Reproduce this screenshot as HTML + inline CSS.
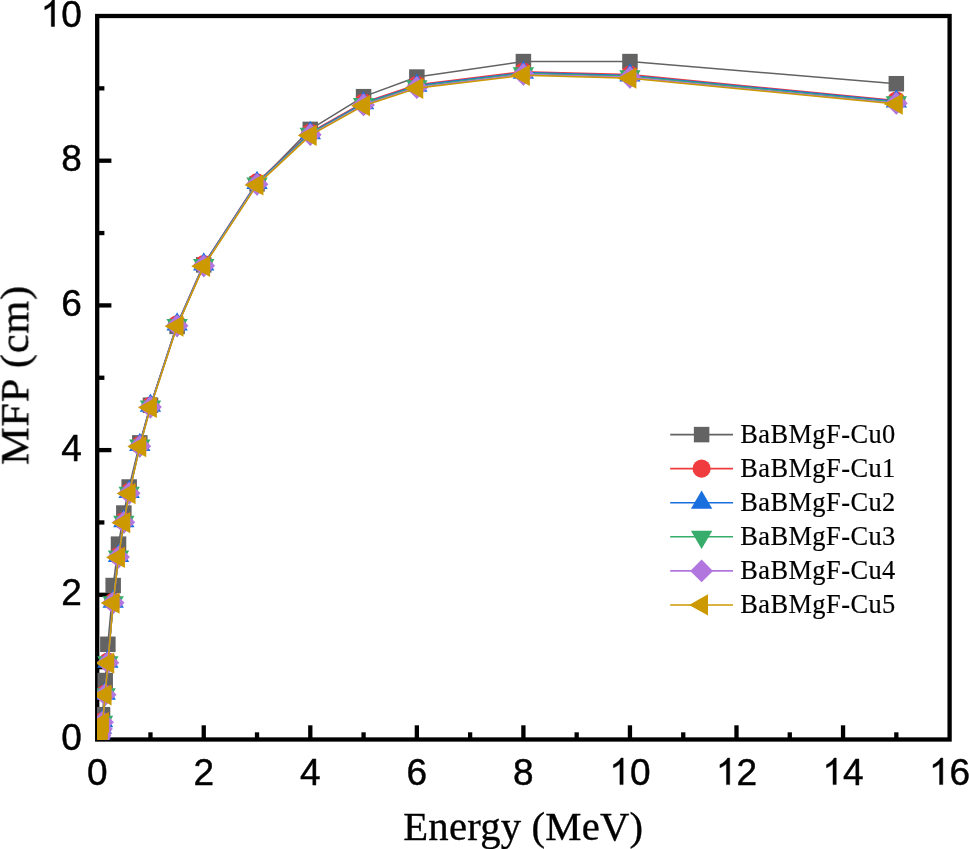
<!DOCTYPE html>
<html><head><meta charset="utf-8"><title>MFP vs Energy</title>
<style>html,body{margin:0;padding:0;background:#fff;}body{width:969px;height:849px;overflow:hidden;}svg{display:block;}text{font-family:"Liberation Sans",sans-serif;fill:#000;}.t{font-family:"Liberation Serif",serif;}</style>
</head><body>
<svg width="969" height="849" viewBox="0 0 969 849">
<rect x="0" y="0" width="969" height="849" fill="#ffffff"/>
<defs><clipPath id="c"><rect x="97" y="16" width="852.6" height="724"/></clipPath></defs>
<g stroke="#000" stroke-width="4.3" fill="none" stroke-linecap="butt">
<rect x="97.20" y="16.00" width="852.40" height="723.50"/>
<line x1="150.47" y1="739.50" x2="150.47" y2="732.30"/>
<line x1="203.75" y1="739.50" x2="203.75" y2="725.30"/>
<line x1="257.02" y1="739.50" x2="257.02" y2="732.30"/>
<line x1="310.30" y1="739.50" x2="310.30" y2="725.30"/>
<line x1="363.57" y1="739.50" x2="363.57" y2="732.30"/>
<line x1="416.85" y1="739.50" x2="416.85" y2="725.30"/>
<line x1="470.12" y1="739.50" x2="470.12" y2="732.30"/>
<line x1="523.40" y1="739.50" x2="523.40" y2="725.30"/>
<line x1="576.67" y1="739.50" x2="576.67" y2="732.30"/>
<line x1="629.95" y1="739.50" x2="629.95" y2="725.30"/>
<line x1="683.23" y1="739.50" x2="683.23" y2="732.30"/>
<line x1="736.50" y1="739.50" x2="736.50" y2="725.30"/>
<line x1="789.77" y1="739.50" x2="789.77" y2="732.30"/>
<line x1="843.05" y1="739.50" x2="843.05" y2="725.30"/>
<line x1="896.33" y1="739.50" x2="896.33" y2="732.30"/>
<line x1="97.20" y1="667.15" x2="104.40" y2="667.15"/>
<line x1="97.20" y1="594.80" x2="111.40" y2="594.80"/>
<line x1="97.20" y1="522.45" x2="104.40" y2="522.45"/>
<line x1="97.20" y1="450.10" x2="111.40" y2="450.10"/>
<line x1="97.20" y1="377.75" x2="104.40" y2="377.75"/>
<line x1="97.20" y1="305.40" x2="111.40" y2="305.40"/>
<line x1="97.20" y1="233.05" x2="104.40" y2="233.05"/>
<line x1="97.20" y1="160.70" x2="111.40" y2="160.70"/>
<line x1="97.20" y1="88.35" x2="104.40" y2="88.35"/>
</g>
<g clip-path="url(#c)">
<polyline points="98.00,739.14 98.27,738.78 98.80,737.33 99.33,735.16 99.86,733.71 100.40,730.82 101.46,724.31 102.53,714.68 105.19,680.53 107.86,644.29 113.18,585.54 118.51,544.15 123.84,513.04 129.16,487.00 139.82,442.87 150.47,405.24 177.11,326.38 203.75,264.88 257.02,183.85 310.30,129.37 363.57,96.67 416.85,77.06 523.40,61.58 629.95,61.58 896.33,83.72" fill="none" stroke="#636363" stroke-width="1.5" stroke-linejoin="round"/>
<rect x="90.25" y="731.39" width="15.50" height="15.50" fill="#636363"/>
<rect x="90.52" y="731.03" width="15.50" height="15.50" fill="#636363"/>
<rect x="91.05" y="729.58" width="15.50" height="15.50" fill="#636363"/>
<rect x="91.58" y="727.41" width="15.50" height="15.50" fill="#636363"/>
<rect x="92.11" y="725.96" width="15.50" height="15.50" fill="#636363"/>
<rect x="92.65" y="723.07" width="15.50" height="15.50" fill="#636363"/>
<rect x="93.71" y="716.56" width="15.50" height="15.50" fill="#636363"/>
<rect x="94.78" y="706.93" width="15.50" height="15.50" fill="#636363"/>
<rect x="97.44" y="672.78" width="15.50" height="15.50" fill="#636363"/>
<rect x="100.11" y="636.54" width="15.50" height="15.50" fill="#636363"/>
<rect x="105.43" y="577.79" width="15.50" height="15.50" fill="#636363"/>
<rect x="110.76" y="536.40" width="15.50" height="15.50" fill="#636363"/>
<rect x="116.09" y="505.29" width="15.50" height="15.50" fill="#636363"/>
<rect x="121.41" y="479.25" width="15.50" height="15.50" fill="#636363"/>
<rect x="132.07" y="435.12" width="15.50" height="15.50" fill="#636363"/>
<rect x="142.72" y="397.49" width="15.50" height="15.50" fill="#636363"/>
<rect x="169.36" y="318.63" width="15.50" height="15.50" fill="#636363"/>
<rect x="196.00" y="257.13" width="15.50" height="15.50" fill="#636363"/>
<rect x="249.27" y="176.10" width="15.50" height="15.50" fill="#636363"/>
<rect x="302.55" y="121.62" width="15.50" height="15.50" fill="#636363"/>
<rect x="355.82" y="88.92" width="15.50" height="15.50" fill="#636363"/>
<rect x="409.10" y="69.31" width="15.50" height="15.50" fill="#636363"/>
<rect x="515.65" y="53.83" width="15.50" height="15.50" fill="#636363"/>
<rect x="622.20" y="53.83" width="15.50" height="15.50" fill="#636363"/>
<rect x="888.58" y="75.97" width="15.50" height="15.50" fill="#636363"/>
<polyline points="98.00,737.83 98.27,737.61 98.80,736.74 99.33,735.87 99.86,734.42 100.40,732.24 101.46,727.90 102.53,721.01 105.19,693.50 107.86,661.51 113.18,601.56 118.51,555.80 123.84,521.04 129.16,491.92 139.82,444.82 150.47,405.60 177.11,324.25 203.75,264.16 257.02,182.40 310.30,132.48 363.57,102.46 416.85,84.73 523.40,71.71 629.95,74.60 896.33,100.50" fill="none" stroke="#F03C3E" stroke-width="1.5" stroke-linejoin="round"/>
<circle cx="98.00" cy="737.83" r="9.1" fill="#F03C3E"/>
<circle cx="98.27" cy="737.61" r="9.1" fill="#F03C3E"/>
<circle cx="98.80" cy="736.74" r="9.1" fill="#F03C3E"/>
<circle cx="99.33" cy="735.87" r="9.1" fill="#F03C3E"/>
<circle cx="99.86" cy="734.42" r="9.1" fill="#F03C3E"/>
<circle cx="100.40" cy="732.24" r="9.1" fill="#F03C3E"/>
<circle cx="101.46" cy="727.90" r="9.1" fill="#F03C3E"/>
<circle cx="102.53" cy="721.01" r="9.1" fill="#F03C3E"/>
<circle cx="105.19" cy="693.50" r="9.1" fill="#F03C3E"/>
<circle cx="107.86" cy="661.51" r="9.1" fill="#F03C3E"/>
<circle cx="113.18" cy="601.56" r="9.1" fill="#F03C3E"/>
<circle cx="118.51" cy="555.80" r="9.1" fill="#F03C3E"/>
<circle cx="123.84" cy="521.04" r="9.1" fill="#F03C3E"/>
<circle cx="129.16" cy="491.92" r="9.1" fill="#F03C3E"/>
<circle cx="139.82" cy="444.82" r="9.1" fill="#F03C3E"/>
<circle cx="150.47" cy="405.60" r="9.1" fill="#F03C3E"/>
<circle cx="177.11" cy="324.25" r="9.1" fill="#F03C3E"/>
<circle cx="203.75" cy="264.16" r="9.1" fill="#F03C3E"/>
<circle cx="257.02" cy="182.40" r="9.1" fill="#F03C3E"/>
<circle cx="310.30" cy="132.48" r="9.1" fill="#F03C3E"/>
<circle cx="363.57" cy="102.46" r="9.1" fill="#F03C3E"/>
<circle cx="416.85" cy="84.73" r="9.1" fill="#F03C3E"/>
<circle cx="523.40" cy="71.71" r="9.1" fill="#F03C3E"/>
<circle cx="629.95" cy="74.60" r="9.1" fill="#F03C3E"/>
<circle cx="896.33" cy="100.50" r="9.1" fill="#F03C3E"/>
<polyline points="98.00,737.83 98.27,737.61 98.80,736.74 99.33,735.87 99.86,734.42 100.40,732.25 101.46,727.91 102.53,721.03 105.19,693.53 107.86,661.54 113.18,601.61 118.51,555.86 123.84,521.11 129.16,492.01 139.82,444.93 150.47,405.75 177.11,324.46 203.75,264.45 257.02,182.84 310.30,133.06 363.57,103.18 416.85,85.60 523.40,72.58 629.95,75.47 896.33,101.37" fill="none" stroke="#1A6FDF" stroke-width="1.5" stroke-linejoin="round"/>
<path d="M98.00 725.63L108.70 743.93L87.30 743.93Z" fill="#1A6FDF"/>
<path d="M98.27 725.41L108.97 743.71L87.57 743.71Z" fill="#1A6FDF"/>
<path d="M98.80 724.54L109.50 742.84L88.10 742.84Z" fill="#1A6FDF"/>
<path d="M99.33 723.67L110.03 741.97L88.63 741.97Z" fill="#1A6FDF"/>
<path d="M99.86 722.22L110.56 740.52L89.16 740.52Z" fill="#1A6FDF"/>
<path d="M100.40 720.05L111.10 738.35L89.70 738.35Z" fill="#1A6FDF"/>
<path d="M101.46 715.71L112.16 734.01L90.76 734.01Z" fill="#1A6FDF"/>
<path d="M102.53 708.83L113.23 727.13L91.83 727.13Z" fill="#1A6FDF"/>
<path d="M105.19 681.33L115.89 699.63L94.49 699.63Z" fill="#1A6FDF"/>
<path d="M107.86 649.34L118.56 667.64L97.16 667.64Z" fill="#1A6FDF"/>
<path d="M113.18 589.41L123.88 607.71L102.48 607.71Z" fill="#1A6FDF"/>
<path d="M118.51 543.66L129.21 561.96L107.81 561.96Z" fill="#1A6FDF"/>
<path d="M123.84 508.91L134.54 527.21L113.14 527.21Z" fill="#1A6FDF"/>
<path d="M129.16 479.81L139.86 498.11L118.46 498.11Z" fill="#1A6FDF"/>
<path d="M139.82 432.73L150.52 451.03L129.12 451.03Z" fill="#1A6FDF"/>
<path d="M150.47 393.55L161.17 411.85L139.78 411.85Z" fill="#1A6FDF"/>
<path d="M177.11 312.26L187.81 330.56L166.41 330.56Z" fill="#1A6FDF"/>
<path d="M203.75 252.25L214.45 270.55L193.05 270.55Z" fill="#1A6FDF"/>
<path d="M257.02 170.64L267.72 188.94L246.32 188.94Z" fill="#1A6FDF"/>
<path d="M310.30 120.86L321.00 139.16L299.60 139.16Z" fill="#1A6FDF"/>
<path d="M363.57 90.98L374.27 109.28L352.88 109.28Z" fill="#1A6FDF"/>
<path d="M416.85 73.40L427.55 91.70L406.15 91.70Z" fill="#1A6FDF"/>
<path d="M523.40 60.38L534.10 78.68L512.70 78.68Z" fill="#1A6FDF"/>
<path d="M629.95 63.27L640.65 81.57L619.25 81.57Z" fill="#1A6FDF"/>
<path d="M896.33 89.17L907.03 107.47L885.62 107.47Z" fill="#1A6FDF"/>
<polyline points="98.00,738.56 98.27,738.34 98.80,737.47 99.33,736.60 99.86,735.15 100.40,732.98 101.46,728.63 102.53,721.75 105.19,694.25 107.86,662.26 113.18,602.34 118.51,556.59 123.84,521.85 129.16,492.74 139.82,445.68 150.47,406.50 177.11,325.22 203.75,265.22 257.02,183.63 310.30,133.88 363.57,104.03 416.85,86.47 523.40,73.45 629.95,76.34 896.33,102.24" fill="none" stroke="#37AD6B" stroke-width="1.5" stroke-linejoin="round"/>
<path d="M98.00 750.76L108.70 732.46L87.30 732.46Z" fill="#37AD6B"/>
<path d="M98.27 750.54L108.97 732.24L87.57 732.24Z" fill="#37AD6B"/>
<path d="M98.80 749.67L109.50 731.37L88.10 731.37Z" fill="#37AD6B"/>
<path d="M99.33 748.80L110.03 730.50L88.63 730.50Z" fill="#37AD6B"/>
<path d="M99.86 747.35L110.56 729.05L89.16 729.05Z" fill="#37AD6B"/>
<path d="M100.40 745.18L111.10 726.88L89.70 726.88Z" fill="#37AD6B"/>
<path d="M101.46 740.83L112.16 722.53L90.76 722.53Z" fill="#37AD6B"/>
<path d="M102.53 733.95L113.23 715.65L91.83 715.65Z" fill="#37AD6B"/>
<path d="M105.19 706.45L115.89 688.15L94.49 688.15Z" fill="#37AD6B"/>
<path d="M107.86 674.46L118.56 656.16L97.16 656.16Z" fill="#37AD6B"/>
<path d="M113.18 614.54L123.88 596.24L102.48 596.24Z" fill="#37AD6B"/>
<path d="M118.51 568.79L129.21 550.49L107.81 550.49Z" fill="#37AD6B"/>
<path d="M123.84 534.05L134.54 515.75L113.14 515.75Z" fill="#37AD6B"/>
<path d="M129.16 504.94L139.86 486.64L118.46 486.64Z" fill="#37AD6B"/>
<path d="M139.82 457.88L150.52 439.58L129.12 439.58Z" fill="#37AD6B"/>
<path d="M150.47 418.70L161.17 400.40L139.78 400.40Z" fill="#37AD6B"/>
<path d="M177.11 337.42L187.81 319.12L166.41 319.12Z" fill="#37AD6B"/>
<path d="M203.75 277.42L214.45 259.12L193.05 259.12Z" fill="#37AD6B"/>
<path d="M257.02 195.83L267.72 177.53L246.32 177.53Z" fill="#37AD6B"/>
<path d="M310.30 146.08L321.00 127.78L299.60 127.78Z" fill="#37AD6B"/>
<path d="M363.57 116.23L374.27 97.93L352.88 97.93Z" fill="#37AD6B"/>
<path d="M416.85 98.67L427.55 80.37L406.15 80.37Z" fill="#37AD6B"/>
<path d="M523.40 85.65L534.10 67.35L512.70 67.35Z" fill="#37AD6B"/>
<path d="M629.95 88.54L640.65 70.24L619.25 70.24Z" fill="#37AD6B"/>
<path d="M896.33 114.44L907.03 96.14L885.62 96.14Z" fill="#37AD6B"/>
<polyline points="98.00,738.99 98.27,738.77 98.80,737.91 99.33,737.04 99.86,735.59 100.40,733.42 101.46,729.07 102.53,722.20 105.19,694.70 107.86,662.72 113.18,602.80 118.51,557.07 123.84,522.33 129.16,493.24 139.82,446.19 150.47,407.03 177.11,325.80 203.75,265.85 257.02,184.36 310.30,134.70 363.57,104.94 416.85,87.48 523.40,74.46 629.95,77.35 896.33,103.25" fill="none" stroke="#B177DE" stroke-width="1.5" stroke-linejoin="round"/>
<path d="M98.00 727.59L109.40 738.99L98.00 750.39L86.60 738.99Z" fill="#B177DE"/>
<path d="M98.27 727.37L109.67 738.77L98.27 750.17L86.87 738.77Z" fill="#B177DE"/>
<path d="M98.80 726.51L110.20 737.91L98.80 749.31L87.40 737.91Z" fill="#B177DE"/>
<path d="M99.33 725.64L110.73 737.04L99.33 748.44L87.93 737.04Z" fill="#B177DE"/>
<path d="M99.86 724.19L111.26 735.59L99.86 746.99L88.46 735.59Z" fill="#B177DE"/>
<path d="M100.40 722.02L111.80 733.42L100.40 744.82L89.00 733.42Z" fill="#B177DE"/>
<path d="M101.46 717.67L112.86 729.07L101.46 740.47L90.06 729.07Z" fill="#B177DE"/>
<path d="M102.53 710.80L113.93 722.20L102.53 733.60L91.13 722.20Z" fill="#B177DE"/>
<path d="M105.19 683.30L116.59 694.70L105.19 706.10L93.79 694.70Z" fill="#B177DE"/>
<path d="M107.86 651.32L119.26 662.72L107.86 674.12L96.45 662.72Z" fill="#B177DE"/>
<path d="M113.18 591.40L124.58 602.80L113.18 614.20L101.78 602.80Z" fill="#B177DE"/>
<path d="M118.51 545.67L129.91 557.07L118.51 568.47L107.11 557.07Z" fill="#B177DE"/>
<path d="M123.84 510.93L135.24 522.33L123.84 533.73L112.44 522.33Z" fill="#B177DE"/>
<path d="M129.16 481.84L140.56 493.24L129.16 504.64L117.76 493.24Z" fill="#B177DE"/>
<path d="M139.82 434.79L151.22 446.19L139.82 457.59L128.42 446.19Z" fill="#B177DE"/>
<path d="M150.47 395.63L161.88 407.03L150.47 418.43L139.07 407.03Z" fill="#B177DE"/>
<path d="M177.11 314.40L188.51 325.80L177.11 337.20L165.71 325.80Z" fill="#B177DE"/>
<path d="M203.75 254.45L215.15 265.85L203.75 277.25L192.35 265.85Z" fill="#B177DE"/>
<path d="M257.02 172.96L268.42 184.36L257.02 195.76L245.62 184.36Z" fill="#B177DE"/>
<path d="M310.30 123.30L321.70 134.70L310.30 146.10L298.90 134.70Z" fill="#B177DE"/>
<path d="M363.57 93.54L374.97 104.94L363.57 116.34L352.18 104.94Z" fill="#B177DE"/>
<path d="M416.85 76.08L428.25 87.48L416.85 98.88L405.45 87.48Z" fill="#B177DE"/>
<path d="M523.40 63.06L534.80 74.46L523.40 85.86L512.00 74.46Z" fill="#B177DE"/>
<path d="M629.95 65.95L641.35 77.35L629.95 88.75L618.55 77.35Z" fill="#B177DE"/>
<path d="M896.33 91.85L907.73 103.25L896.33 114.65L884.93 103.25Z" fill="#B177DE"/>
<polyline points="98.00,739.28 98.27,739.07 98.80,738.20 99.33,737.33 99.86,735.88 100.40,733.71 101.46,729.37 102.53,722.50 105.19,695.00 107.86,663.03 113.18,603.12 118.51,557.40 123.84,522.67 129.16,493.58 139.82,446.55 150.47,407.41 177.11,326.24 203.75,266.33 257.02,184.94 310.30,135.38 363.57,105.71 416.85,88.35 523.40,75.33 629.95,78.22 896.33,104.12" fill="none" stroke="#CC9900" stroke-width="1.5" stroke-linejoin="round"/>
<path d="M85.50 739.28L104.40 728.68L104.40 749.88Z" fill="#CC9900"/>
<path d="M85.77 739.07L104.67 728.47L104.67 749.67Z" fill="#CC9900"/>
<path d="M86.30 738.20L105.20 727.60L105.20 748.80Z" fill="#CC9900"/>
<path d="M86.83 737.33L105.73 726.73L105.73 747.93Z" fill="#CC9900"/>
<path d="M87.36 735.88L106.26 725.28L106.26 746.48Z" fill="#CC9900"/>
<path d="M87.90 733.71L106.80 723.11L106.80 744.31Z" fill="#CC9900"/>
<path d="M88.96 729.37L107.86 718.77L107.86 739.97Z" fill="#CC9900"/>
<path d="M90.03 722.50L108.93 711.90L108.93 733.10Z" fill="#CC9900"/>
<path d="M92.69 695.00L111.59 684.40L111.59 705.60Z" fill="#CC9900"/>
<path d="M95.36 663.03L114.26 652.43L114.26 673.63Z" fill="#CC9900"/>
<path d="M100.68 603.12L119.58 592.52L119.58 613.72Z" fill="#CC9900"/>
<path d="M106.01 557.40L124.91 546.80L124.91 568.00Z" fill="#CC9900"/>
<path d="M111.34 522.67L130.24 512.07L130.24 533.27Z" fill="#CC9900"/>
<path d="M116.66 493.58L135.56 482.98L135.56 504.18Z" fill="#CC9900"/>
<path d="M127.32 446.55L146.22 435.95L146.22 457.15Z" fill="#CC9900"/>
<path d="M137.97 407.41L156.88 396.81L156.88 418.01Z" fill="#CC9900"/>
<path d="M164.61 326.24L183.51 315.64L183.51 336.84Z" fill="#CC9900"/>
<path d="M191.25 266.33L210.15 255.73L210.15 276.93Z" fill="#CC9900"/>
<path d="M244.52 184.94L263.42 174.34L263.42 195.54Z" fill="#CC9900"/>
<path d="M297.80 135.38L316.70 124.78L316.70 145.98Z" fill="#CC9900"/>
<path d="M351.07 105.71L369.97 95.11L369.97 116.31Z" fill="#CC9900"/>
<path d="M404.35 88.35L423.25 77.75L423.25 98.95Z" fill="#CC9900"/>
<path d="M510.90 75.33L529.80 64.73L529.80 85.93Z" fill="#CC9900"/>
<path d="M617.45 78.22L636.35 67.62L636.35 88.82Z" fill="#CC9900"/>
<path d="M883.83 104.12L902.73 93.52L902.73 114.72Z" fill="#CC9900"/>
</g>
<g font-size="37.0" stroke="#000" stroke-width="0.45" style="opacity:0.999">
<text x="86.91" y="784.60">0</text>
<text x="193.46" y="784.60">2</text>
<text x="300.01" y="784.60">4</text>
<text x="406.56" y="784.60">6</text>
<text x="513.11" y="784.60">8</text>
<path d="M763 0H583V1147Q518 1085 412.5 1023Q307 961 223 930V1104Q374 1175 487 1276Q600 1377 647 1472H763Z" transform="translate(609.37 784.60) scale(0.01807 -0.01807)" fill="#000" stroke="#000" stroke-width="24.9"/><text x="629.95" y="784.60">0</text>
<path d="M763 0H583V1147Q518 1085 412.5 1023Q307 961 223 930V1104Q374 1175 487 1276Q600 1377 647 1472H763Z" transform="translate(715.92 784.60) scale(0.01807 -0.01807)" fill="#000" stroke="#000" stroke-width="24.9"/><text x="736.50" y="784.60">2</text>
<path d="M763 0H583V1147Q518 1085 412.5 1023Q307 961 223 930V1104Q374 1175 487 1276Q600 1377 647 1472H763Z" transform="translate(822.47 784.60) scale(0.01807 -0.01807)" fill="#000" stroke="#000" stroke-width="24.9"/><text x="843.05" y="784.60">4</text>
<path d="M763 0H583V1147Q518 1085 412.5 1023Q307 961 223 930V1104Q374 1175 487 1276Q600 1377 647 1472H763Z" transform="translate(929.02 784.60) scale(0.01807 -0.01807)" fill="#000" stroke="#000" stroke-width="24.9"/><text x="949.60" y="784.60">6</text>
<text x="61.32" y="750.00">0</text>
<text x="61.32" y="605.30">2</text>
<text x="61.32" y="460.60">4</text>
<text x="61.32" y="315.90">6</text>
<text x="61.32" y="171.20">8</text>
<path d="M763 0H583V1147Q518 1085 412.5 1023Q307 961 223 930V1104Q374 1175 487 1276Q600 1377 647 1472H763Z" transform="translate(40.74 26.50) scale(0.01807 -0.01807)" fill="#000" stroke="#000" stroke-width="24.9"/><text x="61.32" y="26.50">0</text>
</g>
<g class="t" stroke="#000" stroke-width="0.35" style="opacity:0.999">
<text class="t" font-size="40.7" letter-spacing="0.19" x="523.3" y="840.3" text-anchor="middle">Energy (MeV)</text>
<text class="t" font-size="40.8" letter-spacing="0.8" transform="translate(28.3 375.0) rotate(-90) scale(1.036 1)" text-anchor="middle">MFP (cm)</text>
</g>
<line x1="670.2" y1="434.60" x2="733" y2="434.60" stroke="#636363" stroke-width="1.6"/>
<rect x="693.85" y="426.85" width="15.50" height="15.50" fill="#636363"/>
<line x1="670.2" y1="468.67" x2="733" y2="468.67" stroke="#F03C3E" stroke-width="1.6"/>
<circle cx="701.60" cy="468.67" r="9.1" fill="#F03C3E"/>
<line x1="670.2" y1="502.74" x2="733" y2="502.74" stroke="#1A6FDF" stroke-width="1.6"/>
<path d="M701.60 490.54L712.30 508.84L690.90 508.84Z" fill="#1A6FDF"/>
<line x1="670.2" y1="536.81" x2="733" y2="536.81" stroke="#37AD6B" stroke-width="1.6"/>
<path d="M701.60 549.01L712.30 530.71L690.90 530.71Z" fill="#37AD6B"/>
<line x1="670.2" y1="570.88" x2="733" y2="570.88" stroke="#B177DE" stroke-width="1.6"/>
<path d="M701.60 559.48L713.00 570.88L701.60 582.28L690.20 570.88Z" fill="#B177DE"/>
<line x1="670.2" y1="604.95" x2="733" y2="604.95" stroke="#CC9900" stroke-width="1.6"/>
<path d="M689.10 604.95L708.00 594.35L708.00 615.55Z" fill="#CC9900"/>
<g class="t" font-size="26.4" letter-spacing="0.45" stroke="#000" stroke-width="0.2" style="opacity:0.999">
<text class="t" x="740.2" y="443.10">BaBMgF-Cu0</text>
<text class="t" x="740.2" y="477.17">BaBMgF-Cu1</text>
<text class="t" x="740.2" y="511.24">BaBMgF-Cu2</text>
<text class="t" x="740.2" y="545.31">BaBMgF-Cu3</text>
<text class="t" x="740.2" y="579.38">BaBMgF-Cu4</text>
<text class="t" x="740.2" y="613.45">BaBMgF-Cu5</text>
</g>
</svg></body></html>
